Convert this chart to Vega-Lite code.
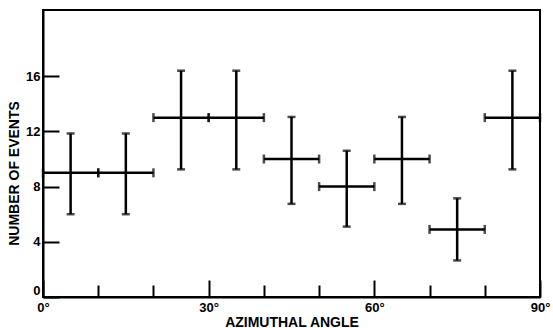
{
  "$schema": "https://vega.github.io/schema/vega-lite/v6.json",
  "width": 497,
  "height": 287,
  "autosize": "none",
  "padding": {"left": 43, "top": 10, "right": 13, "bottom": 31},
  "background": "white",
  "config": {
    "view": {"stroke": "black", "strokeWidth": 2},
    "axis": {
      "domainColor": "black", "domainWidth": 2, "tickColor": "black", "tickWidth": 2,
      "labelFont": "Liberation Sans", "labelColor": "black", "labelFontSize": 13, "labelFontWeight": "bold",
      "titleFont": "Liberation Sans", "titleColor": "black", "titleFontSize": 14, "titleFontWeight": "bold",
      "grid": false
    }
  },
  "data": {
    "values": [
      {"angle": 5, "a0": 0, "a1": 10, "count": 9, "lo": 6.0, "hi": 11.85},
      {"angle": 15, "a0": 10, "a1": 20, "count": 9, "lo": 6.0, "hi": 11.85},
      {"angle": 25, "a0": 20, "a1": 30, "count": 13, "lo": 9.25, "hi": 16.4},
      {"angle": 35, "a0": 30, "a1": 40, "count": 13, "lo": 9.25, "hi": 16.4},
      {"angle": 45, "a0": 40, "a1": 50, "count": 10, "lo": 6.75, "hi": 13.05},
      {"angle": 55, "a0": 50, "a1": 60, "count": 8, "lo": 5.1, "hi": 10.6},
      {"angle": 65, "a0": 60, "a1": 70, "count": 10, "lo": 6.75, "hi": 13.05},
      {"angle": 75, "a0": 70, "a1": 80, "count": 4.9, "lo": 2.65, "hi": 7.15},
      {"angle": 85, "a0": 80, "a1": 90, "count": 13, "lo": 9.25, "hi": 16.4}
    ]
  },
  "layer": [
    {
      "mark": {"type": "rule", "color": "black", "strokeWidth": 2.5},
      "encoding": {
        "x": {
          "field": "angle", "type": "quantitative",
          "scale": {"domain": [0, 90], "nice": false, "zero": false},
          "axis": {
            "title": "AZIMUTHAL ANGLE",
            "values": [0, 10, 20, 30, 40, 50, 60, 70, 80, 90],
            "labelExpr": "datum.value % 30 === 0 ? datum.value + '°' : ''",
            "tickSize": {"condition": {"test": "datum.value % 30 === 0", "value": -17}, "value": -12},
            "labelPadding": 21,
            "titleBaseline": "alphabetic",
            "titleY": 29,
            "labelFlush": false
          }
        },
        "y": {
          "field": "lo", "type": "quantitative",
          "scale": {"domain": [0, 20.8], "nice": false},
          "axis": {
            "title": "NUMBER OF EVENTS",
            "values": [0, 2, 4, 6, 8, 10, 12, 14, 16, 18],
            "labelExpr": "datum.value % 4 === 0 ? datum.value : ''",
            "tickSize": {"condition": {"test": "datum.value % 4 === 0", "value": -16}, "value": -11},
            "labelPadding": 19,
            "titlePadding": 4,
            "titleY": 163,
            "labelFlush": true,
            "labelFlushOffset": 0
          }
        },
        "y2": {"field": "hi"}
      }
    },
    {
      "mark": {"type": "rule", "color": "black", "strokeWidth": 2.5},
      "encoding": {
        "x": {"field": "a0", "type": "quantitative"},
        "x2": {"field": "a1"},
        "y": {"field": "count", "type": "quantitative"}
      }
    },
    {
      "mark": {"type": "tick", "orient": "horizontal", "color": "black", "size": 8, "thickness": 2.5},
      "encoding": {
        "x": {"field": "angle", "type": "quantitative"},
        "y": {"field": "hi", "type": "quantitative"}
      }
    },
    {
      "mark": {"type": "tick", "orient": "horizontal", "color": "black", "size": 8, "thickness": 2.5},
      "encoding": {
        "x": {"field": "angle", "type": "quantitative"},
        "y": {"field": "lo", "type": "quantitative"}
      }
    },
    {
      "mark": {"type": "tick", "orient": "vertical", "color": "black", "size": 9, "thickness": 2.5},
      "encoding": {
        "x": {"field": "a0", "type": "quantitative"},
        "y": {"field": "count", "type": "quantitative"}
      }
    },
    {
      "mark": {"type": "tick", "orient": "vertical", "color": "black", "size": 9, "thickness": 2.5},
      "encoding": {
        "x": {"field": "a1", "type": "quantitative"},
        "y": {"field": "count", "type": "quantitative"}
      }
    }
  ]
}
